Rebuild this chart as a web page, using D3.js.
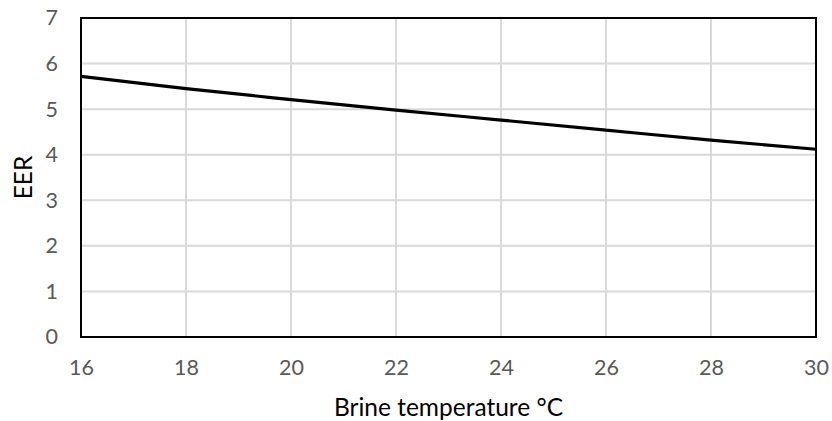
<!DOCTYPE html>
<html>
<head>
<meta charset="utf-8">
<script src="https://cdn.jsdelivr.net/npm/d3@7"></script>
<style>
  body { margin: 0; background: #fff; }
  svg text { font-family: Lato, "Open Sans", sans-serif; }
</style>
</head>
<body>
<div id="chart"></div>
<script>
// Data
const brineTemp = [16, 18, 20, 22, 24, 26, 28, 30];
const eer = [5.72, 5.45, 5.21, 4.98, 4.76, 4.54, 4.32, 4.12];
const xTicks = [16, 18, 20, 22, 24, 26, 28, 30];
const yTicks = [0, 1, 2, 3, 4, 5, 6, 7];

const width = 832, height = 421;
const margin = { top: 18, right: 16, bottom: 84, left: 81 };

const svg = d3.select("#chart").append("svg")
    .attr("width", width).attr("height", height);

const x = d3.scaleLinear().domain([16, 30]).range([margin.left, width - margin.right]);
const y = d3.scaleLinear().domain([0, 7]).range([height - margin.bottom, margin.top]);

// Gridlines
svg.append("g").selectAll("line").data(xTicks).enter().append("line")
    .attr("x1", d => x(d)).attr("x2", d => x(d))
    .attr("y1", y(0)).attr("y2", y(7))
    .attr("stroke", "#d9d9d9").attr("stroke-width", 2);
svg.append("g").selectAll("line").data(yTicks).enter().append("line")
    .attr("x1", x(16)).attr("x2", x(30))
    .attr("y1", d => y(d)).attr("y2", d => y(d))
    .attr("stroke", "#d9d9d9").attr("stroke-width", 2);

// Plot border
svg.append("rect")
    .attr("x", x(16)).attr("y", y(7))
    .attr("width", x(30) - x(16)).attr("height", y(0) - y(7))
    .attr("fill", "none").attr("stroke", "#000").attr("stroke-width", 2);

// Axes (labels only)
const xAxis = svg.append("g")
    .attr("transform", `translate(0,${y(0)})`)
    .call(d3.axisBottom(x).tickValues(xTicks).tickSize(0).tickPadding(23).tickFormat(d3.format("d")));
const yAxis = svg.append("g")
    .attr("transform", `translate(${x(16)},0)`)
    .call(d3.axisLeft(y).tickValues(yTicks).tickSize(0).tickPadding(23).tickFormat(d3.format("d")));
[xAxis, yAxis].forEach(a => {
    a.select(".domain").remove();
    a.selectAll("text").attr("fill", "#595959").style("font-size", "21.5px")
        .style("font-family", "Lato, 'Open Sans', sans-serif");
});

// Line
svg.append("path")
    .datum(brineTemp.map((t, i) => [t, eer[i]]))
    .attr("fill", "none").attr("stroke", "#000").attr("stroke-width", 3.2)
    .attr("d", d3.line().x(d => x(d[0])).y(d => y(d[1])).curve(d3.curveMonotoneX));

// Axis titles
svg.append("text")
    .attr("x", (x(16) + x(30)) / 2).attr("y", 416)
    .attr("text-anchor", "middle").attr("fill", "#000")
    .style("font-size", "24.5px")
    .text("Brine temperature °C");
svg.append("text")
    .attr("transform", `translate(32,${(y(0) + y(7)) / 2}) rotate(-90)`)
    .attr("text-anchor", "middle").attr("fill", "#000")
    .style("font-size", "24.5px")
    .text("EER");
</script>
</body>
</html>
